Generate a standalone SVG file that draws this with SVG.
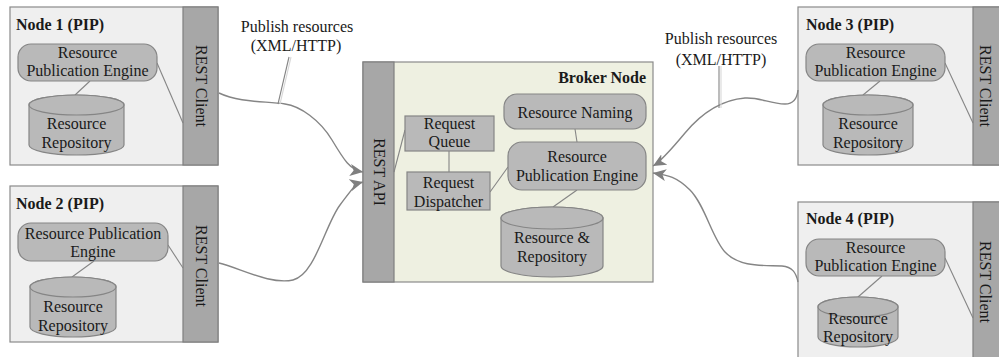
<svg xmlns="http://www.w3.org/2000/svg" width="999" height="357" viewBox="0 0 999 357">
  <style>
    text { font-family: "Liberation Serif", "Times New Roman", serif; font-size: 16px; fill: #1a1a1a; }
    .title { font-weight: bold; }
    .mid { text-anchor: middle; }
    .box { fill: #efefef; stroke: #8a8a8a; stroke-width: 1.2; }
    .broker { fill: #eef0e1; stroke: #8a8a8a; stroke-width: 1.2; }
    .strip { fill: #a7a7a7; stroke: #7f7f7f; stroke-width: 1.2; }
    .comp { fill: #b9b9b9; stroke: #858585; stroke-width: 1.2; }
    .link { stroke: #858585; stroke-width: 1.1; fill: none; }
    .flow { stroke: #858585; stroke-width: 1.4; fill: none; marker-end: url(#arrow); }
    .callout { stroke: #858585; stroke-width: 1.1; fill: none; }
    .callout-hi { stroke: #d8d8d8; stroke-width: 1.1; fill: none; }
  </style>
  <defs>
    <marker id="arrow" markerUnits="userSpaceOnUse" markerWidth="14" markerHeight="12" viewBox="0 0 14 12" refX="13" refY="6" orient="auto">
      <path d="M0,0 L13,6 L0,12 L3.5,6 Z" fill="#7f7f7f"/>
    </marker>
  </defs>

  <rect width="999" height="357" fill="#ffffff"/>

  <!-- Node 1 -->
  <g id="node1">
    <rect class="box" x="10" y="7" width="208" height="158"/>
    <rect class="strip" x="183" y="7" width="35" height="158"/>
    <text class="title" x="16" y="30">Node 1 (PIP)</text>
    <text class="mid" transform="translate(196,86) rotate(90)">REST Client</text>
    <line class="link" x1="157" y1="63" x2="183" y2="123"/>
    <line class="link" x1="90" y1="81" x2="75" y2="95"/>
    <rect class="comp" x="18" y="44" width="139" height="37" rx="13"/>
    <text class="mid" x="87.5" y="58">Resource</text>
    <text class="mid" x="87.5" y="76">Publication Engine</text>
    <path class="comp" d="M29,105 A47.5,10 0 0 1 124,105 V145 A47.5,10 0 0 1 29,145 Z"/>
    <ellipse class="comp" cx="76.5" cy="105" rx="47.5" ry="10"/>
    <text class="mid" x="76.5" y="129">Resource</text>
    <text class="mid" x="76.5" y="148">Repository</text>
  </g>

  <!-- Node 2 -->
  <g id="node2">
    <rect class="box" x="10" y="186" width="208" height="156"/>
    <rect class="strip" x="183" y="186" width="35" height="156"/>
    <text class="title" x="16" y="209">Node 2 (PIP)</text>
    <text class="mid" transform="translate(196,266) rotate(90)">REST Client</text>
    <line class="link" x1="168" y1="245" x2="183" y2="268"/>
    <line class="link" x1="94" y1="261" x2="72" y2="277"/>
    <rect class="comp" x="18" y="223" width="150" height="38" rx="13"/>
    <text class="mid" x="93" y="239">Resource Publication</text>
    <text class="mid" x="93" y="257">Engine</text>
    <path class="comp" d="M30,287 A43,10 0 0 1 116,287 V327 A43,10 0 0 1 30,327 Z"/>
    <ellipse class="comp" cx="73" cy="287" rx="43" ry="10"/>
    <text class="mid" x="73" y="312">Resource</text>
    <text class="mid" x="73" y="331">Repository</text>
  </g>

  <!-- Broker node -->
  <g id="broker">
    <rect class="broker" x="363" y="62" width="290" height="220"/>
    <rect class="strip" x="363" y="62" width="31" height="220"/>
    <text class="mid" transform="translate(374,172) rotate(90)">REST API</text>
    <text class="title" x="646" y="83" text-anchor="end">Broker Node</text>
    <line class="link" x1="394" y1="172" x2="405" y2="130"/>
    <line class="link" x1="449" y1="151" x2="449" y2="172"/>
    <line class="link" x1="490" y1="192" x2="508" y2="167"/>
    <line class="link" x1="575" y1="129" x2="577" y2="142"/>
    <line class="link" x1="577" y1="190" x2="553" y2="207"/>
    <rect class="comp" x="504" y="94" width="142" height="35" rx="13"/>
    <text class="mid" x="575" y="118">Resource Naming</text>
    <rect class="comp" x="405" y="116" width="89" height="35"/>
    <text class="mid" x="449.5" y="129">Request</text>
    <text class="mid" x="449.5" y="147">Queue</text>
    <rect class="comp" x="407" y="172" width="83" height="38"/>
    <text class="mid" x="448.5" y="188">Request</text>
    <text class="mid" x="448.5" y="207">Dispatcher</text>
    <rect class="comp" x="508" y="142" width="138" height="48" rx="14"/>
    <text class="mid" x="577" y="162">Resource</text>
    <text class="mid" x="577" y="181">Publication Engine</text>
    <path class="comp" d="M501,218 A51,11 0 0 1 603,218 V266 A51,11 0 0 1 501,266 Z"/>
    <ellipse class="comp" cx="552" cy="218" rx="51" ry="11"/>
    <text class="mid" x="552" y="243">Resource &amp;</text>
    <text class="mid" x="552" y="262">Repository</text>
  </g>

  <!-- Node 3 -->
  <g id="node3">
    <rect class="box" x="798" y="7" width="215" height="158"/>
    <rect class="strip" x="973" y="7" width="40" height="158"/>
    <text class="title" x="806" y="30">Node 3 (PIP)</text>
    <text class="mid" transform="translate(980,86) rotate(90)">REST Client</text>
    <line class="link" x1="945" y1="63" x2="973" y2="123"/>
    <line class="link" x1="880" y1="81" x2="863" y2="95"/>
    <rect class="comp" x="806" y="44" width="139" height="37" rx="13"/>
    <text class="mid" x="875.5" y="58">Resource</text>
    <text class="mid" x="875.5" y="76">Publication Engine</text>
    <path class="comp" d="M823,105 A45,10 0 0 1 913,105 V145 A45,10 0 0 1 823,145 Z"/>
    <ellipse class="comp" cx="868" cy="105" rx="45" ry="10"/>
    <text class="mid" x="868" y="129">Resource</text>
    <text class="mid" x="868" y="148">Repository</text>
  </g>

  <!-- Node 4 -->
  <g id="node4">
    <rect class="box" x="798" y="202" width="215" height="170"/>
    <rect class="strip" x="973" y="202" width="40" height="170"/>
    <text class="title" x="806" y="224">Node 4 (PIP)</text>
    <text class="mid" transform="translate(980,282) rotate(90)">REST Client</text>
    <line class="link" x1="945" y1="258" x2="973" y2="318"/>
    <line class="link" x1="882" y1="276" x2="858" y2="297"/>
    <rect class="comp" x="806" y="239" width="139" height="37" rx="13"/>
    <text class="mid" x="875.5" y="253">Resource</text>
    <text class="mid" x="875.5" y="271">Publication Engine</text>
    <path class="comp" d="M818,307 A40,10 0 0 1 898,307 V337 A40,10 0 0 1 818,337 Z"/>
    <ellipse class="comp" cx="858" cy="307" rx="40" ry="10"/>
    <text class="mid" x="858" y="324">Resource</text>
    <text class="mid" x="858" y="342">Repository</text>
  </g>

  <!-- Connectors -->
  <g id="connectors">
    <path class="flow" d="M219,93 C240,103 265,101 285,104 C300,106 320,120 332,140 S350,170 363,172"/>
    <path class="flow" d="M219,263 C240,268 270,285 293,280 C315,275 325,225 340,205 S355,184 363,182"/>
    <path class="flow" d="M798,90 C797,100 792,104 785,104 C770,104 760,97 745,98 C720,100 700,115 685,133 S660,162 653,166"/>
    <path class="flow" d="M798,282 C796,272 792,267 782,266 C765,265 740,268 725,252 C712,238 705,205 690,190 S665,175 653,173"/>
    <!-- callout leaders -->
    <line class="callout" x1="289" y1="57" x2="278" y2="104"/>
    <line class="callout-hi" x1="291" y1="57" x2="280" y2="104"/>
    <line class="callout" x1="719" y1="66" x2="719" y2="108"/>
    <line class="callout-hi" x1="721" y1="66" x2="721" y2="108"/>
  </g>

  <!-- Labels -->
  <g id="labels">
    <text class="mid" x="297" y="32">Publish resources</text>
    <text class="mid" x="296" y="51">(XML/HTTP)</text>
    <text class="mid" x="721" y="44">Publish resources</text>
    <text class="mid" x="721" y="65">(XML/HTTP)</text>
  </g>
</svg>
